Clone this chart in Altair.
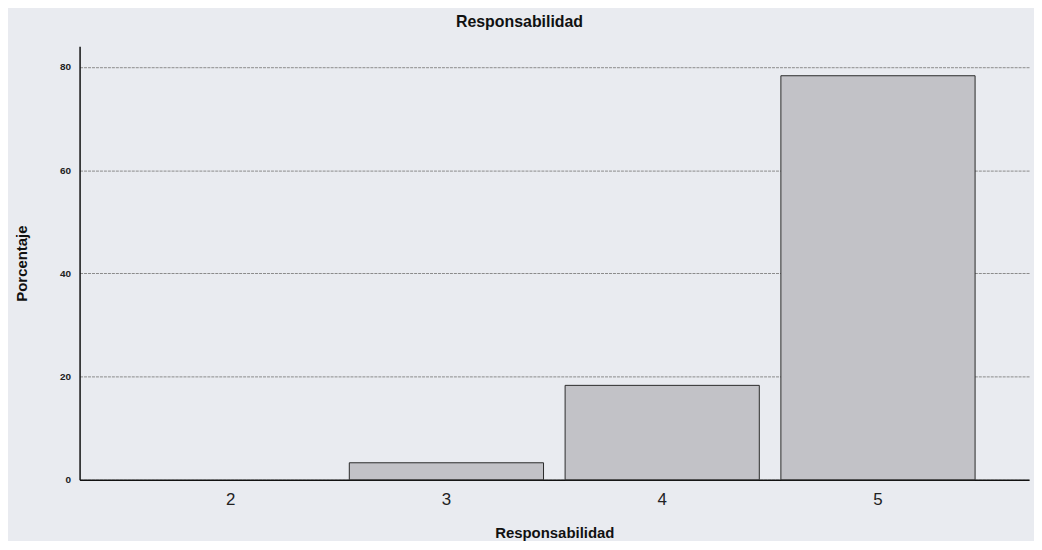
import altair as alt
import pandas as pd

categories = ["2", "3", "4", "5"]
percentages = [0.0, 3.3, 18.3, 78.3]

df = pd.DataFrame({"Responsabilidad": categories, "Porcentaje": percentages})

chart = alt.Chart(df).mark_bar(
    fill="#c2c2c7", stroke="#2a2a2a", strokeWidth=1
).encode(
    x=alt.X("Responsabilidad:N",
            sort=categories,
            scale=alt.Scale(paddingInner=0.1, paddingOuter=0.25),
            axis=alt.Axis(title="Responsabilidad", labelAngle=0, ticks=False,
                          labelFontSize=17, labelFont="Liberation Sans",
                          labelColor="#222", labelPadding=12,
                          titleFontSize=15, titleFont="Liberation Sans",
                          titleFontWeight="bold", titleColor="#111",
                          titlePadding=18, domainColor="#111", domainWidth=1.5,
                          grid=False)),
    y=alt.Y("Porcentaje:Q",
            scale=alt.Scale(domain=[0, 84], nice=False),
            axis=alt.Axis(title="Porcentaje", values=[0, 20, 40, 60, 80],
                          ticks=False, labelFontSize=10, labelFontWeight="bold",
                          labelFont="Liberation Sans", labelColor="#222",
                          labelPadding=9,
                          titleFontSize=15, titleFont="Liberation Sans",
                          titleFontWeight="bold", titleColor="#111",
                          titlePadding=30, domainColor="#111", domainWidth=1.5,
                          grid=True, gridColor="#8a8a8a", gridDash=[3, 1],
                          gridWidth=1)),
    strokeOpacity=alt.condition(alt.datum.Porcentaje > 0, alt.value(1), alt.value(0)),
).properties(
    width=955,
    height=436,
    title=alt.TitleParams("Responsabilidad", fontSize=16, font="Liberation Sans",
                          fontWeight="bold", color="#111", dx=-35, offset=16),
    background="#e9ebf0",
    padding={"left": 72, "top": 37, "right": 5, "bottom": 60},
    autosize=alt.AutoSizeParams(type="none"),
).configure_view(stroke=None)

chart.save("out.html", embed_options={"renderer": "svg", "actions": False})
